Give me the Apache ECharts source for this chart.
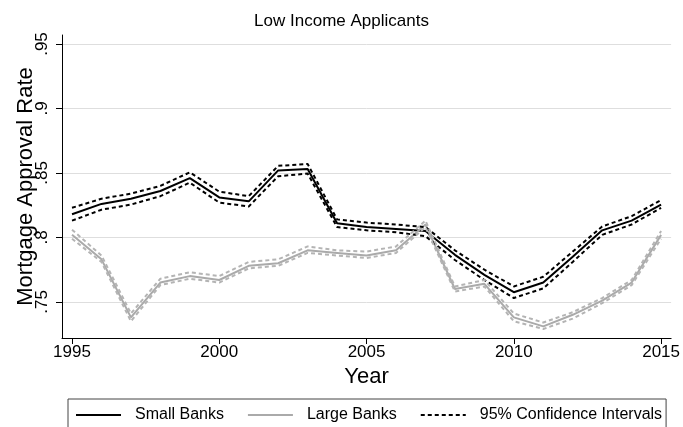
<!DOCTYPE html>
<html>
<head>
<meta charset="utf-8">
<script src="https://cdn.jsdelivr.net/npm/echarts@6/dist/echarts.min.js"></script>
<style>
  html, body { margin: 0; padding: 0; background: #fff; }
  #chart { width: 683px; height: 427px; }
</style>
</head>
<body>
<div id="chart"></div>
<script>
  var years = [1995, 1996, 1997, 1998, 1999, 2000, 2001, 2002, 2003, 2004, 2005,
    2006, 2007, 2008, 2009, 2010, 2011, 2012, 2013, 2014, 2015];
  var xTicks = [1995, 2000, 2005, 2010, 2015];
  var yTicks = [0.75, 0.8, 0.85, 0.9, 0.95];

  // small banks: estimate and 95% band
  var smallMid = [0.818, 0.826, 0.830, 0.836, 0.846, 0.831, 0.828, 0.852, 0.853, 0.811, 0.808,
    0.8065, 0.805, 0.7865, 0.771, 0.7575, 0.765, 0.785, 0.8055, 0.813, 0.8255];
  var smallHi = [0.823, 0.830, 0.834, 0.840, 0.8505, 0.8355, 0.832, 0.8555, 0.857, 0.814, 0.8115,
    0.810, 0.808, 0.790, 0.775, 0.762, 0.7695, 0.789, 0.8085, 0.8165, 0.829];
  var smallLo = [0.813, 0.8215, 0.8255, 0.832, 0.8425, 0.827, 0.824, 0.8475, 0.8495, 0.808, 0.8055,
    0.804, 0.801, 0.7825, 0.767, 0.753, 0.7605, 0.781, 0.802, 0.810, 0.823];

  // large banks: estimate and 95% band
  var largeMid = [0.802, 0.783, 0.738, 0.765, 0.770, 0.767, 0.778, 0.780, 0.790, 0.788, 0.786,
    0.790, 0.810, 0.760, 0.764, 0.738, 0.731, 0.740, 0.751, 0.765, 0.802];
  var largeHi = [0.806, 0.786, 0.741, 0.768, 0.773, 0.770, 0.781, 0.783, 0.793, 0.790, 0.789,
    0.793, 0.813, 0.762, 0.767, 0.741, 0.734, 0.742, 0.753, 0.767, 0.805];
  var largeLo = [0.799, 0.781, 0.735, 0.763, 0.768, 0.765, 0.776, 0.778, 0.788, 0.786, 0.784,
    0.788, 0.808, 0.758, 0.762, 0.735, 0.729, 0.737, 0.749, 0.763, 0.799];

  var FONT = 'Liberation Sans, Arial, sans-serif';
  var CI = '95% Confidence Intervals';

  function pairs (vals) {
    return years.map(function (y, i) { return [y, vals[i]]; });
  }
  function line (name, vals, color, type, width) {
    return {
      name: name,
      type: 'line',
      data: pairs(vals),
      symbol: 'none',
      lineStyle: { color: color, width: width, type: type },
      itemStyle: { color: color },
      emphasis: { disabled: true }
    };
  }

  var myChart = echarts.init(document.getElementById('chart'));
  myChart.setOption({
    animation: false,
    textStyle: { fontFamily: FONT },
    title: {
      text: 'Low Income Applicants',
      left: 'center',
      top: 8,
      textStyle: { fontFamily: FONT, fontSize: 17, fontWeight: 'normal', color: '#000' }
    },
    legend: {
      data: ['Small Banks', 'Large Banks', CI],
      left: 68,
      top: 399,
      orient: 'horizontal',
      itemWidth: 45,
      itemHeight: 14,
      itemGap: 23,
      padding: [8, 4, 20, 7],
      borderColor: '#444',
      borderWidth: 1,
      itemStyle: { opacity: 0 },
      textStyle: { fontFamily: FONT, fontSize: 16, color: '#000', padding: [0, 0, 0, 9] }
    },
    grid: { left: 62, right: 10, top: 35, bottom: 89 },
    xAxis: {
      type: 'value',
      min: 1994.66,
      max: 2015.34,
      name: 'Year',
      nameLocation: 'middle',
      nameGap: 27,
      nameTextStyle: { fontFamily: FONT, fontSize: 22, color: '#000' },
      axisLine: { show: true, lineStyle: { color: '#000', width: 1 } },
      axisTick: { show: true, length: 6, customValues: xTicks, lineStyle: { color: '#000' } },
      axisLabel: {
        customValues: xTicks,
        fontSize: 17,
        color: '#000',
        margin: 6,
        formatter: function (v) { return String(v); }
      },
      splitLine: { show: false }
    },
    yAxis: {
      type: 'value',
      min: 0.722,
      max: 0.957,
      name: 'Mortgage Approval Rate',
      nameLocation: 'middle',
      nameRotate: 90,
      nameGap: 25,
      nameMoveOverlap: false,
      nameTextStyle: { fontFamily: FONT, fontSize: 22, color: '#000' },
      axisLine: { show: true, lineStyle: { color: '#000', width: 1 } },
      axisTick: { show: true, length: 6, customValues: yTicks, lineStyle: { color: '#000' } },
      axisLabel: {
        customValues: yTicks,
        rotate: 90,
        fontSize: 17,
        color: '#000',
        margin: 11,
        formatter: function (v) { return String(+v.toFixed(2)).replace(/^0/, ''); }
      },
      splitLine: { show: true, lineStyle: { color: '#dedede', width: 1 } }
    },
    series: [
      line('Small Banks', smallMid, '#000', 'solid', 2),
      line('Large Banks', largeMid, '#aaaaaa', 'solid', 2),
      line(CI, smallHi, '#000', [4, 3], 2),
      line(CI, smallLo, '#000', [4, 3], 2),
      line(CI, largeHi, '#b4b4b4', [4, 3], 2),
      line(CI, largeLo, '#b4b4b4', [4, 3], 2)
    ]
  });
</script>
</body>
</html>
